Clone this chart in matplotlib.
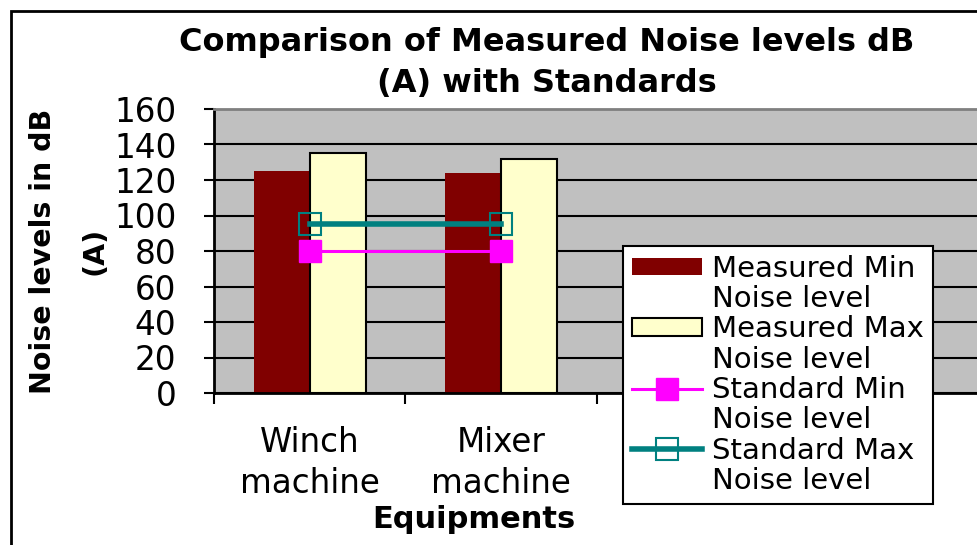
import numpy as np
import matplotlib
matplotlib.use('Agg')
import matplotlib.pyplot as plt
from matplotlib.lines import Line2D
from matplotlib.patches import Rectangle

# chart data
equipments = ["Winch\nmachine", "Mixer\nmachine", "", ""]
measured_min = [125, 124]
measured_max = [135, 132]
standard_min = [80, 80]
standard_max = [95, 95]
y_ticks = [0, 20, 40, 60, 80, 100, 120, 140, 160]

W, H = 978, 545
fig = plt.figure(figsize=(W / 100, H / 100), dpi=100)
ax = fig.add_axes([214 / W, 152 / H, 766 / W, 284 / H])
ax.set_facecolor('#C0C0C0')

x = np.arange(len(equipments))
n = len(measured_min)
w = 0.292
b_min = ax.bar(x[:n] - w / 2, measured_min, w, color='#800000', zorder=2)
b_max = ax.bar(x[:n] + w / 2, measured_max, w, color='#FFFFCC',
               edgecolor='black', linewidth=1.5, zorder=2)
l_min, = ax.plot(x[:n], standard_min, color='#FF00FF', lw=2.2, marker='s',
                 ms=16, zorder=3)
l_max, = ax.plot(x[:n], standard_max, color='#008080', lw=4, marker='s',
                 ms=16, mfc='none', mew=1.5, zorder=3)

ax.set_xlim(-0.5, len(equipments) - 0.5)
ax.set_ylim(0, 160)
ax.set_yticks(y_ticks)
ax.yaxis.grid(True, color='black', lw=1.5)
ax.set_axisbelow(True)

ax.set_xticks(x)
ax.set_xticklabels(equipments, linespacing=1.3)
ax.set_xticks(np.arange(-0.5, len(equipments), 1), minor=True)
ax.tick_params(axis='x', which='major', length=0, pad=24, labelsize=23.5)
ax.tick_params(axis='x', which='minor', length=8, width=1.5, direction='out')
ax.tick_params(axis='y', length=7, width=1.5, direction='out', pad=20,
               labelsize=23.5)

for s in ['left', 'bottom']:
    ax.spines[s].set_linewidth(2)
    ax.spines[s].set_color('black')
ax.spines['top'].set_color('#808080')
ax.spines['top'].set_linewidth(2)
ax.spines['right'].set_visible(False)

fig.text(547 / W, 1 - 63 / H,
         'Comparison of Measured Noise levels dB\n(A) with Standards',
         ha='center', va='center', fontsize=23, fontweight='bold',
         linespacing=1.45)
fig.text(69 / W, 1 - 251 / H, 'Noise levels in dB\n(A)', rotation=90,
         ha='center', va='center', fontsize=20.5, fontweight='bold',
         linespacing=2.05)
fig.text(474 / W, 1 - 520 / H, 'Equipments', ha='center', va='center',
         fontsize=22, fontweight='bold')

# outer chart border
fig.patches.append(Rectangle((11 / W, -0.1), 1.1, 0.1 + (H - 11) / H,
                             transform=fig.transFigure, fill=False,
                             lw=2, edgecolor='black'))

blank = Line2D([], [], linestyle='none')
handles = [b_min, blank, b_max, blank, l_min, blank, l_max, blank]
labels = ['Measured Min', 'Noise level', 'Measured Max', 'Noise level',
          'Standard Min', 'Noise level', 'Standard Max', 'Noise level']
leg = fig.legend(handles, labels, loc='upper left',
                 bbox_to_anchor=(623 / W, 1 - 246 / H), fontsize=21,
                 handlelength=2.4, handleheight=0.55, handletextpad=0.35,
                 borderpad=0.3, labelspacing=0.08, borderaxespad=0,
                 fancybox=False, edgecolor='black', framealpha=1,
                 numpoints=1)
leg.get_frame().set_linewidth(1.5)

fig.savefig('out.png', dpi=100)
